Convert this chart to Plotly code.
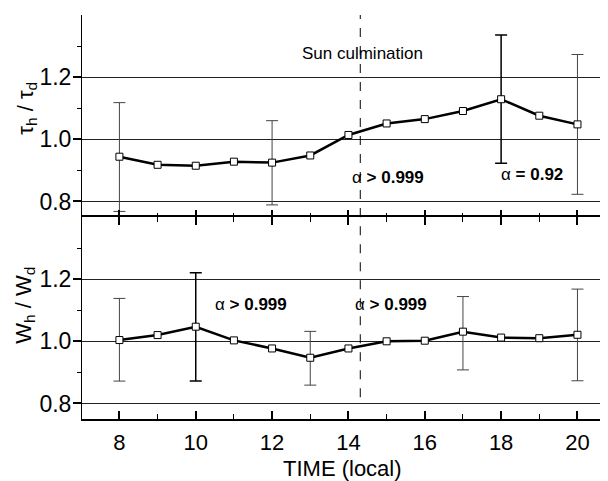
import plotly.graph_objects as go

hours = [8, 9, 10, 11, 12, 13, 14, 15, 16, 17, 18, 19, 20]
tau_ratio = [0.944, 0.918, 0.915, 0.928, 0.925, 0.948, 1.014, 1.051, 1.065, 1.091, 1.129, 1.076, 1.048]
w_ratio = [1.004, 1.020, 1.047, 1.003, 0.977, 0.947, 0.977, 1.000, 1.002, 1.031, 1.012, 1.010, 1.021]

# error bars (hour, upper, lower)
tau_err_thin_x = [8, 12, 20]
tau_err_thin_hi = [1.118, 1.060, 1.273]
tau_err_thin_lo = [0.768, 0.789, 0.823]
tau_err_bold_x = [18]
tau_err_bold_hi = [1.336]
tau_err_bold_lo = [0.923]

w_err_thin_x = [8, 13, 17, 20]
w_err_thin_hi = [1.138, 1.032, 1.144, 1.168]
w_err_thin_lo = [0.872, 0.859, 0.908, 0.873]
w_err_bold_x = [10]
w_err_bold_hi = [1.221]
w_err_bold_lo = [0.872]

sun_culmination = 14.31
y_ticks = [0.8, 1.0, 1.2]
y_minor = [0.9, 1.1, 1.3]
x_ticks = [8, 10, 12, 14, 16, 18, 20]

FONT = "Arial, Liberation Sans, sans-serif"

fig = go.Figure()


def val_at(xs, series):
    return [series[hours.index(x)] for x in xs]


def add_err(xs, hi, lo, series, xa, ya, color, width):
    ys = val_at(xs, series)
    fig.add_trace(go.Scatter(
        x=xs, y=ys, mode="markers", xaxis=xa, yaxis=ya,
        marker=dict(size=1, opacity=0),
        error_y=dict(type="data", symmetric=False,
                     array=[h - v for h, v in zip(hi, ys)],
                     arrayminus=[v - l for l, v in zip(lo, ys)],
                     color=color, thickness=width, width=6),
        showlegend=False, hoverinfo="skip"))


add_err(tau_err_thin_x, tau_err_thin_hi, tau_err_thin_lo, tau_ratio, "x", "y", "#444444", 1)
add_err(tau_err_bold_x, tau_err_bold_hi, tau_err_bold_lo, tau_ratio, "x", "y", "#000000", 1.5)
add_err(w_err_thin_x, w_err_thin_hi, w_err_thin_lo, w_ratio, "x2", "y2", "#444444", 1)
add_err(w_err_bold_x, w_err_bold_hi, w_err_bold_lo, w_ratio, "x2", "y2", "#000000", 1.5)

for series, xa, ya in [(tau_ratio, "x", "y"), (w_ratio, "x2", "y2")]:
    fig.add_trace(go.Scatter(
        x=hours, y=series, mode="lines+markers", xaxis=xa, yaxis=ya,
        line=dict(color="black", width=2.5),
        marker=dict(symbol="square", size=7, color="white",
                    line=dict(color="black", width=1)),
        showlegend=False))

xr = [7.02, 20.8]
yr = [0.75, 1.4]

common_x = dict(range=xr, showgrid=False, zeroline=False, showline=True,
                linecolor="black", linewidth=1,
                tickvals=x_ticks, ticks="inside", ticklen=8, tickwidth=2,
                tickcolor="black",
                minor=dict(dtick=1, tick0=0, ticks="inside", ticklen=5,
                           tickwidth=1, tickcolor="black"))
common_y = dict(range=yr, showgrid=True, gridcolor="#222222", gridwidth=1,
                zeroline=False, showline=True, linecolor="black", linewidth=1,
                tickvals=y_ticks, ticktext=["0.8", "1.0", "1.2"],
                ticks="outside", ticklen=8, tickwidth=1.5, tickcolor="black",
                ticklabelstandoff=-3,
                minor=dict(tickvals=y_minor, ticks="outside", ticklen=4,
                           tickwidth=1, tickcolor="black", showgrid=False),
                tickfont=dict(family=FONT, size=23, color="black"))

# the page body adds an 8 px offset, so the figure is 600x473
fig.update_layout(
    width=600, height=473,
    margin=dict(l=74, r=0, t=7, b=62),
    paper_bgcolor="white", plot_bgcolor="white",
    font=dict(family=FONT, color="black"),
    xaxis=dict(common_x, anchor="y", showticklabels=False, showline=False,
               ticks="inside", ticklen=7,
               minor=dict(dtick=1, tick0=0, ticks="inside", ticklen=4,
                          tickwidth=1, tickcolor="black")),
    yaxis=dict(common_y, domain=[0.5, 1.0], anchor="x"),
    xaxis2=dict(common_x, anchor="y2", matches="x", mirror="ticks",
                linewidth=1.5,
                showticklabels=True, ticklabelstandoff=3,
                tickfont=dict(family=FONT, size=22, color="black")),
    yaxis2=dict(common_y, domain=[0.0, 0.5], anchor="x2"),
)

# sun culmination dashed line
fig.add_shape(type="line", xref="x", yref="y", x0=sun_culmination, x1=sun_culmination,
              y0=0.75, y1=1.4, line=dict(color="black", width=1, dash="dash"))
fig.add_shape(type="line", xref="x2", yref="y2", x0=sun_culmination, x1=sun_culmination,
              y0=0.82, y1=1.4, line=dict(color="black", width=1, dash="dash"))

ann_font = dict(family=FONT, size=17, color="black")
fig.add_annotation(x=14.38, y=1.276, xref="x", yref="y", text="Sun culmination",
                   showarrow=False, font=dict(family=FONT, size=17, color="black", weight=500))
fig.add_annotation(x=15.04, y=0.878, xref="x", yref="y", text="α <b>> 0.999</b>",
                   showarrow=False, font=ann_font)
fig.add_annotation(x=18.82, y=0.888, xref="x", yref="y", text="α <b>= 0.92</b>",
                   showarrow=False, font=ann_font)
fig.add_annotation(x=11.44, y=1.117, xref="x2", yref="y2", text="α <b>> 0.999</b>",
                   showarrow=False, font=ann_font)
fig.add_annotation(x=15.12, y=1.117, xref="x2", yref="y2", text="α <b>> 0.999</b>",
                   showarrow=False, font=ann_font)

# axis titles
title_font = dict(family=FONT, size=22, color="black")
fig.add_annotation(x=-0.105, y=0.77, xref="paper", yref="paper",
                   text="τ<sub>h</sub> / τ<sub>d</sub>", textangle=-90,
                   showarrow=False, font=title_font, xanchor="center", yanchor="middle")
fig.add_annotation(x=-0.108, y=0.281, xref="paper", yref="paper",
                   text="W<sub>h</sub> / W<sub>d</sub>", textangle=-90,
                   showarrow=False, font=title_font, xanchor="center", yanchor="middle")
fig.add_annotation(x=0.496, y=-0.1227, xref="paper", yref="paper",
                   text="TIME (local)", showarrow=False, font=title_font,
                   xanchor="center", yanchor="middle")

fig.write_html("out.html")
